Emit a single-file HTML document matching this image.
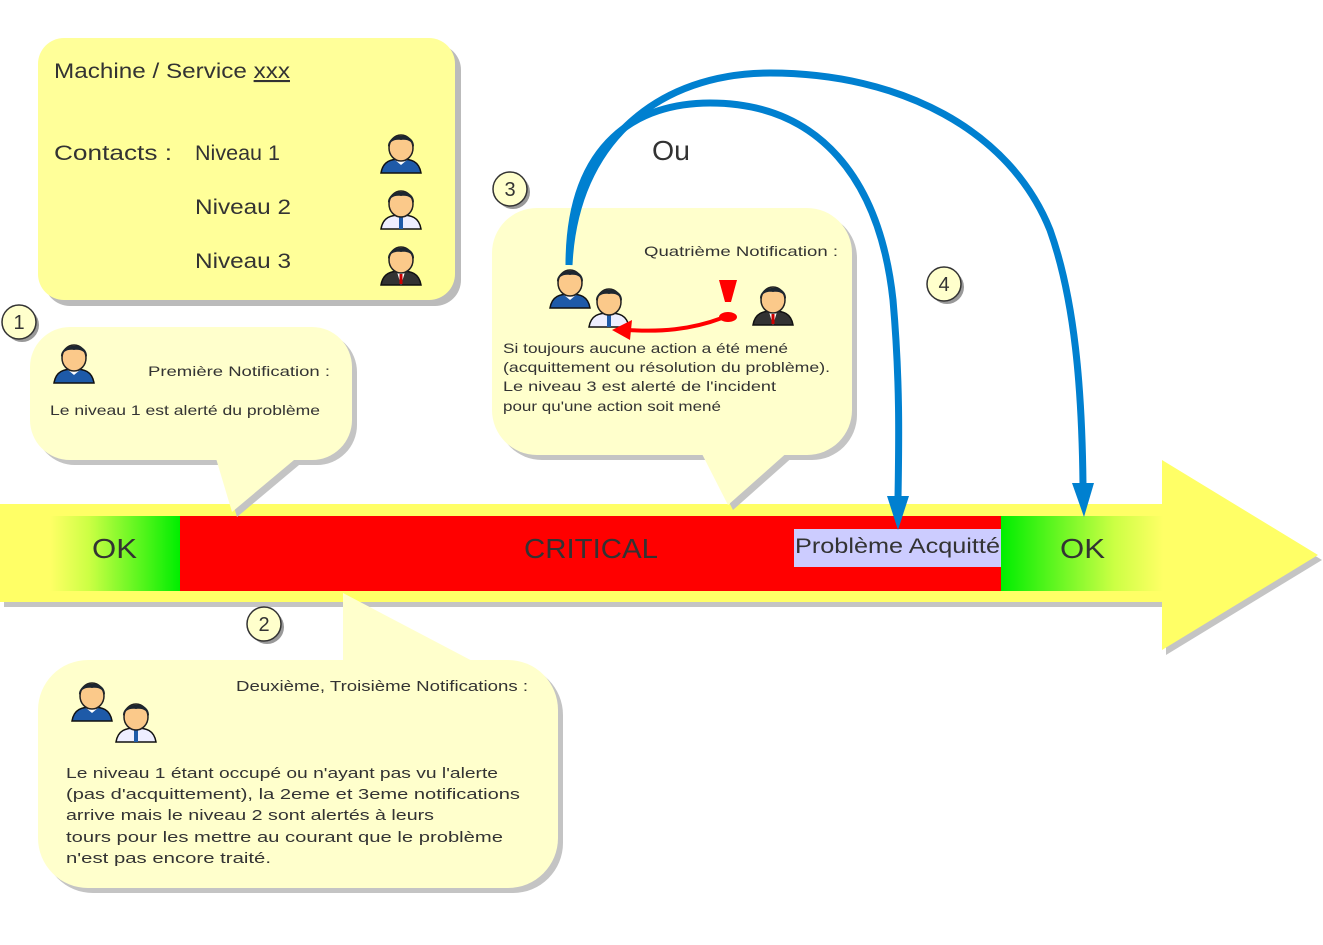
<!DOCTYPE html>
<html><head><meta charset="utf-8"><style>
html,body{margin:0;padding:0;background:#fff}
svg{display:block}
text{font-family:"Liberation Sans",sans-serif;fill:#333}
</style></head><body>
<svg width="1323" height="945" viewBox="0 0 1323 945" xmlns="http://www.w3.org/2000/svg">
<defs>
<linearGradient id="gl" x1="0" x2="1" y1="0" y2="0"><stop offset="0" stop-color="#ffff66"/><stop offset="0.3" stop-color="#ccff44"/><stop offset="1" stop-color="#00ee00"/></linearGradient>
<linearGradient id="gr" x1="0" x2="1" y1="0" y2="0"><stop offset="0" stop-color="#00ee00"/><stop offset="0.7" stop-color="#ccff44"/><stop offset="1" stop-color="#ffff66"/></linearGradient>
<g id="head">
 <ellipse cx="22" cy="19" rx="12" ry="13" fill="#fbc98a" stroke="#222" stroke-width="1.5"/>
 <path d="M9,18 C8,4 36,2 35,18 C33,12 28,10 22,11 C16,10 11,12 9,18Z" fill="#1d2630"/>
</g>
<g id="p1"><path d="M2,44 C4,32 12,30 22,30 C32,30 40,32 42,44Z" fill="#1e5aa8" stroke="#111" stroke-width="1.5"/><path d="M16,31 L22,36 L28,31Z" fill="#fff"/><use href="#head"/></g>
<g id="p2"><path d="M2,44 C4,32 12,30 22,30 C32,30 40,32 42,44Z" fill="#eef" stroke="#111" stroke-width="1.5"/><rect x="20" y="32" width="4" height="12" fill="#1e5aa8"/><use href="#head"/></g>
<g id="p3"><path d="M2,44 C4,32 12,30 22,30 C32,30 40,32 42,44Z" fill="#333" stroke="#111" stroke-width="1.5"/><path d="M18,31 L22,44 L26,31Z" fill="#fff"/><rect x="20.5" y="33" width="3" height="10" fill="#c00"/><use href="#head"/></g>
</defs>

<!-- top-left box -->
<rect x="44" y="44" width="417" height="262" rx="26" fill="#bbb"/>
<rect x="38" y="38" width="417" height="262" rx="26" fill="#ffff99"/>
<text x="54" y="78" font-size="21" textLength="236" lengthAdjust="spacingAndGlyphs">Machine / Service <tspan text-decoration="underline">xxx</tspan></text>
<text x="54" y="160" font-size="21" textLength="118" lengthAdjust="spacingAndGlyphs">Contacts :</text>
<text x="195" y="160" font-size="21" textLength="85" lengthAdjust="spacingAndGlyphs">Niveau 1</text>
<text x="195" y="214" font-size="21" textLength="96" lengthAdjust="spacingAndGlyphs">Niveau 2</text>
<text x="195" y="268" font-size="21" textLength="96" lengthAdjust="spacingAndGlyphs">Niveau 3</text>
<use href="#p1" x="379" y="129"/>
<use href="#p2" x="379" y="185"/>
<use href="#p3" x="379" y="241"/>

<!-- main band -->
<path d="M4,509 H1166 V465 L1322,560 L1166,655 V607 H4Z" fill="#c4c4c4"/>
<path d="M0,504 H1162 V460 L1318,555 L1162,650 V602 H0Z" fill="#ffff66"/>
<rect x="50" y="516" width="130" height="75" fill="url(#gl)"/>
<rect x="180" y="516" width="821" height="75" fill="#ff0000"/>
<rect x="1001" y="516" width="162" height="75" fill="url(#gr)"/>
<rect x="794" y="529" width="207" height="38" fill="#ccccff"/>
<text x="92" y="558" font-size="28" textLength="45" lengthAdjust="spacingAndGlyphs">OK</text>
<text x="1060" y="558" font-size="28" textLength="45" lengthAdjust="spacingAndGlyphs">OK</text>
<text x="524" y="558" font-size="28" textLength="134" lengthAdjust="spacingAndGlyphs">CRITICAL</text>
<text x="795" y="553" font-size="21" textLength="205" lengthAdjust="spacingAndGlyphs">Problème Acquitté</text>

<!-- bubble 1 -->
<g transform="translate(5,5)" fill="#c4c4c4"><rect x="30" y="327" width="322" height="133" rx="40"/><path d="M215,455 L232,512 L300,455Z"/></g>
<g fill="#ffffcc"><rect x="30" y="327" width="322" height="133" rx="40"/><path d="M215,455 L232,512 L300,455Z"/></g>
<use href="#p1" x="52" y="339"/>
<text x="148" y="376" font-size="14" textLength="182" lengthAdjust="spacingAndGlyphs">Première Notification :</text>
<text x="50" y="415" font-size="14" textLength="270" lengthAdjust="spacingAndGlyphs">Le niveau 1 est alerté du problème</text>

<!-- bubble 3 -->
<g transform="translate(5,5)" fill="#c4c4c4"><rect x="492" y="208" width="360" height="247" rx="45"/><path d="M700,450 L728,505 L790,450Z"/></g>
<g fill="#ffffcc"><rect x="492" y="208" width="360" height="247" rx="45"/><path d="M700,450 L728,505 L790,450Z"/></g>
<text x="644" y="256" font-size="14" textLength="194" lengthAdjust="spacingAndGlyphs">Quatrième Notification :</text>
<use href="#p1" x="548" y="264"/>
<use href="#p2" x="587" y="283"/>
<use href="#p3" x="751" y="281"/>
<path d="M719,280 H737 L731,302 H725Z" fill="#f00"/>
<ellipse cx="728" cy="317" rx="9" ry="5" fill="#f00"/>
<path d="M722,318 C690,330 660,332 628,330" fill="none" stroke="#f00" stroke-width="4"/>
<path d="M612,330 L632,320 L630,340Z" fill="#f00"/>
<text x="503" y="353" font-size="14" textLength="285" lengthAdjust="spacingAndGlyphs">Si toujours aucune action a été mené</text>
<text x="503" y="372" font-size="14" textLength="327" lengthAdjust="spacingAndGlyphs">(acquittement ou résolution du problème).</text>
<text x="503" y="391" font-size="14" textLength="273" lengthAdjust="spacingAndGlyphs">Le niveau 3 est alerté de l'incident</text>
<text x="503" y="411" font-size="14" textLength="218" lengthAdjust="spacingAndGlyphs">pour qu'une action soit mené</text>

<!-- bubble 2 -->
<g transform="translate(5,5)" fill="#c4c4c4"><rect x="38" y="660" width="520" height="228" rx="50"/><path d="M343,593 L343,665 L480,665Z"/></g>
<g fill="#ffffcc"><rect x="38" y="660" width="520" height="228" rx="50"/><path d="M343,593 L343,665 L480,665Z"/></g>
<use href="#p1" x="70" y="677"/>
<use href="#p2" x="114" y="698"/>
<text x="236" y="691" font-size="15" textLength="292" lengthAdjust="spacingAndGlyphs">Deuxième, Troisième Notifications :</text>
<text x="66" y="778" font-size="15" textLength="432" lengthAdjust="spacingAndGlyphs">Le niveau 1 étant occupé ou n'ayant pas vu l'alerte</text>
<text x="66" y="799" font-size="15" textLength="454" lengthAdjust="spacingAndGlyphs">(pas d'acquittement), la 2eme et 3eme notifications</text>
<text x="66" y="820" font-size="15" textLength="368" lengthAdjust="spacingAndGlyphs">arrive mais le niveau 2 sont alertés à leurs</text>
<text x="66" y="842" font-size="15" textLength="437" lengthAdjust="spacingAndGlyphs">tours pour les mettre au courant que le problème</text>
<text x="66" y="863" font-size="15" textLength="205" lengthAdjust="spacingAndGlyphs">n'est pas encore traité.</text>

<!-- blue arcs -->
<path d="M569,265 C569,140 640,103 710,103 C820,103 880,180 893,300 C900,380 899,440 898,498" fill="none" stroke="#0080d0" stroke-width="7"/>
<path d="M887,496 L909,496 L898,530Z" fill="#0080d0"/>
<path d="M569,265 C575,140 660,73 770,73 C900,73 1010,130 1050,230 C1075,300 1082,390 1083,485" fill="none" stroke="#0080d0" stroke-width="7"/>
<path d="M1072,483 L1094,483 L1084,517Z" fill="#0080d0"/>
<text x="652" y="160" font-size="28" textLength="38" lengthAdjust="spacingAndGlyphs">Ou</text>

<!-- numbered circles -->
<g font-size="20" text-anchor="middle">
<circle cx="22" cy="325" r="17" fill="#999"/><circle cx="19" cy="322" r="17" fill="#ffffcc" stroke="#333" stroke-width="1.5"/><text x="19" y="329">1</text>
<circle cx="267" cy="627" r="17" fill="#999"/><circle cx="264" cy="624" r="17" fill="#ffffcc" stroke="#333" stroke-width="1.5"/><text x="264" y="631">2</text>
<circle cx="513" cy="192" r="17" fill="#999"/><circle cx="510" cy="189" r="17" fill="#ffffcc" stroke="#333" stroke-width="1.5"/><text x="510" y="196">3</text>
<circle cx="947" cy="287" r="17" fill="#999"/><circle cx="944" cy="284" r="17" fill="#ffffcc" stroke="#333" stroke-width="1.5"/><text x="944" y="291">4</text>
</g>
</svg>
</body></html>
